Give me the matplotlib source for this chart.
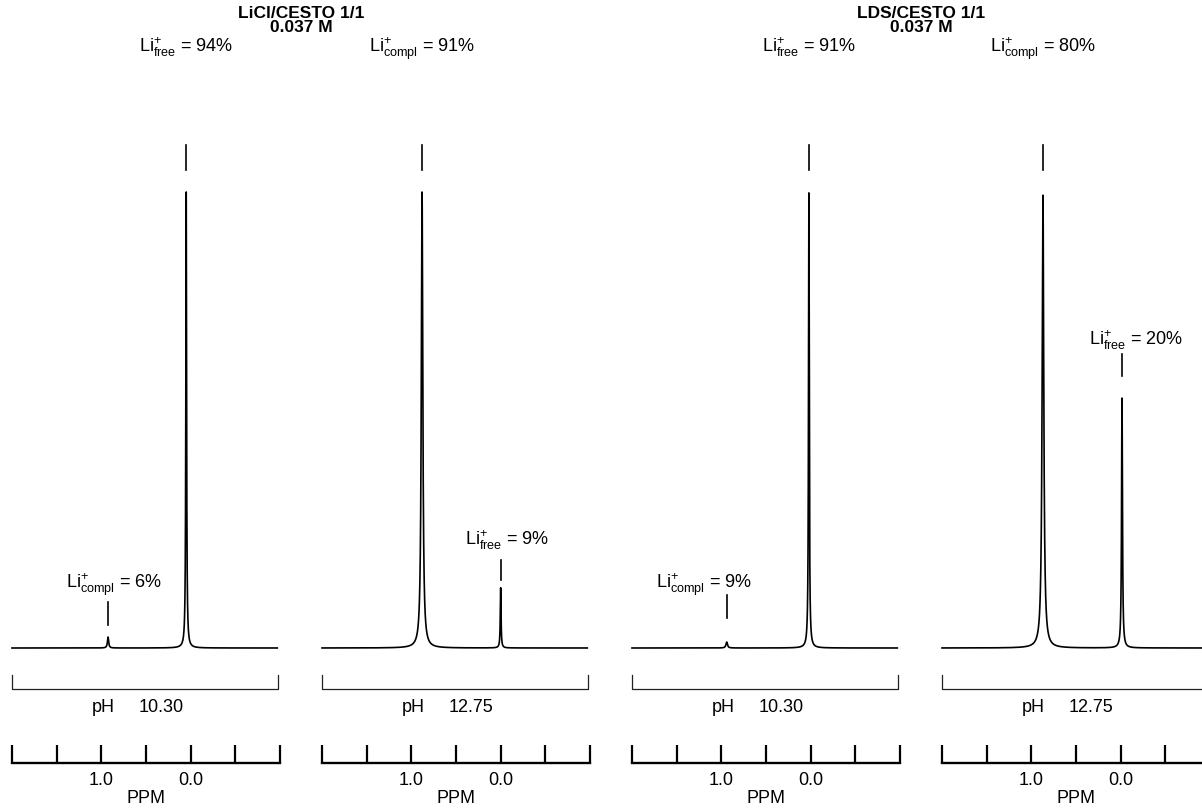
import numpy as np
import matplotlib
matplotlib.use("Agg")
import matplotlib.pyplot as plt

plt.rcParams['font.family'] = ['Liberation Sans', 'DejaVu Sans']
plt.rcParams['mathtext.fontset'] = 'custom'
plt.rcParams['mathtext.rm'] = 'Liberation Sans'
plt.rcParams['mathtext.it'] = 'Liberation Sans:italic'
plt.rcParams['mathtext.bf'] = 'Liberation Sans:bold'

# ---------------- data ----------------
titles = ["LiCl/CESTO 1/1\n0.037 M", "LDS/CESTO 1/1\n0.037 M"]
ph_values = ["10.30", "12.75", "10.30", "12.75"]
free_pos = [0.05, 0.0, 0.02, -0.015]        # ppm
free_height = [100, 13.2, 99.8, 54.8]       # relative intensity
free_hwhm = [0.005, 0.005, 0.005, 0.006]    # ppm
compl_pos = [0.925, 0.88, 0.94, 0.87]
compl_height = [2.4, 100, 1.3, 99.3]
compl_hwhm = [0.008, 0.010, 0.010, 0.011]
free_pct = [94, 9, 91, 20]
compl_pct = [6, 91, 9, 80]
ppm_ticks = [2.0, 1.5, 1.0, 0.5, 0.0, -0.5, -1.0]
ppm_ticklabels = ['', '', '1.0', '', '0.0', '', '']

# ---------------- layout (pixels) ----------------
W, H = 1202, 811
panel_left = [12, 322, 632, 942]
panel_w = 268
px_per_ppm = panel_w / 3.0
base_py = 648.0
px_per_unit = 4.56
small_label_dx = [6, 6, -23, 14]
small_label_py = [588, 545, 588, 345]
small_mark_top = [602, 560, 595, 354]
small_mark_bot = [625, 580, 618, 376]
title_cx = [301, 921]


def fx(px):
    return px / W


def fy(py):
    return 1 - py / H


def v(py):
    return (base_py - py) / px_per_unit


def lorentz(x, x0, h, w):
    return h / (1 + ((x - x0) / w) ** 2)


fig = plt.figure(figsize=(W / 100, H / 100), dpi=100)

x = np.linspace(2.0, -0.97, 30001)
fs = 13

for i in range(4):
    L = panel_left[i]
    ax = fig.add_axes([fx(L), fy(700), panel_w / W, (700 - 130) / H])
    ax.set_xlim(2.0, -1.0)
    ax.set_ylim(v(700), v(130))
    ax.axis('off')

    y = lorentz(x, free_pos[i], free_height[i], free_hwhm[i]) + \
        lorentz(x, compl_pos[i], compl_height[i], compl_hwhm[i])
    ax.plot(x, y, color='black', lw=1.2, clip_on=False)

    free_lab = r'Li$^{+}_{\rm free}$ = %d%%' % free_pct[i]
    compl_lab = r'Li$^{+}_{\rm compl}$ = %d%%' % compl_pct[i]
    if free_height[i] > compl_height[i]:
        big_pos, big_lab = free_pos[i], free_lab
        sm_pos, sm_lab = compl_pos[i], compl_lab
    else:
        big_pos, big_lab = compl_pos[i], compl_lab
        sm_pos, sm_lab = free_pos[i], free_lab

    # top marker and label
    ax.plot([big_pos, big_pos], [v(170), v(145)], color='black', lw=1.2, clip_on=False)
    ax.text(big_pos, v(52), big_lab, ha='center', va='baseline', fontsize=fs, clip_on=False)

    # small-peak marker and label
    ax.plot([sm_pos, sm_pos], [v(small_mark_bot[i]), v(small_mark_top[i])],
            color='black', lw=1.2, clip_on=False)
    ax.text(sm_pos - small_label_dx[i] / px_per_ppm, v(small_label_py[i]), sm_lab,
            ha='center', va='baseline', fontsize=fs, clip_on=False)

    # bracket
    xr = 2.0 - 266 / px_per_ppm
    ax.plot([2.0, 2.0, xr, xr], [v(675), v(689), v(689), v(675)],
            color='#222222', lw=0.9, clip_on=False)
    ax.text(2.0 - 91 / px_per_ppm, v(707), 'pH', ha='center', va='center', fontsize=fs)
    ax.text(2.0 - 149 / px_per_ppm, v(707), ph_values[i], ha='center', va='center', fontsize=fs)

    # ppm scale
    sx = fig.add_axes([fx(L), fy(763), panel_w / W, 20 / H])
    sx.set_xlim(2.0, -1.0)
    sx.set_ylim(0, 1)
    sx.patch.set_visible(False)
    for s in ['top', 'left', 'right']:
        sx.spines[s].set_visible(False)
    sx.spines['bottom'].set_linewidth(1.7)
    sx.set_yticks([])
    sx.set_xticks(ppm_ticks)
    sx.set_xticklabels(ppm_ticklabels, fontsize=fs)
    sx.tick_params(axis='x', direction='in', length=13, width=1.6, pad=6.5)
    sx.set_xlabel('PPM', fontsize=fs, labelpad=1)

for j in range(2):
    fig.text(fx(title_cx[j]), fy(6), titles[j], ha='center', va='top',
             fontsize=12.5, fontweight='bold', linespacing=0.95)

fig.savefig('out.png', dpi=100)
